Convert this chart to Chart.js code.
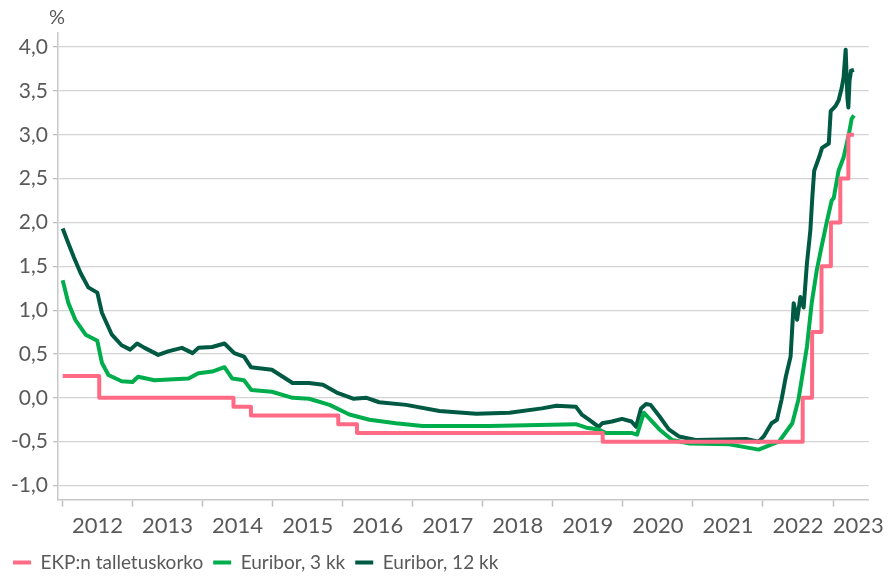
<!DOCTYPE html>
<html>
<head>
<meta charset="utf-8">
<script src="https://cdn.jsdelivr.net/npm/chart.js@4/dist/chart.umd.min.js"></script>
<style>
  html, body { margin: 0; padding: 0; background: #fff; }
  #wrap { width: 890px; height: 582px; }
</style>
</head>
<body>
<div id="wrap"><canvas id="chart"></canvas></div>
<script>
const seriesNames = ["EKP:n talletuskorko", "Euribor, 3 kk", "Euribor, 12 kk"];
const yearLabels = ["2012", "2013", "2014", "2015", "2016", "2017", "2018", "2019", "2020", "2021", "2022", "2023"];
const yTicks = [-1, -0.5, 0, 0.5, 1, 1.5, 2, 2.5, 3, 3.5, 4];

// EKP deposit rate: change dates and new rate
const ecbDates = ["2012-01-02", "2012-07-11", "2014-06-11", "2014-09-10", "2015-12-09", "2016-03-16", "2019-09-18",
  "2022-07-27", "2022-09-14", "2022-11-02", "2022-12-21", "2023-02-08", "2023-03-22"];
const ecbRates = [0.25, 0, -0.1, -0.2, -0.3, -0.4, -0.5, 0, 0.75, 1.5, 2, 2.5, 3];
const ecbEnd = "2023-04-20";

const e3Dates = ["2012-01-02", "2012-02-01", "2012-03-08", "2012-05-01", "2012-07-01", "2012-07-25", "2012-08-28",
  "2012-11-05", "2013-01-01", "2013-01-30", "2013-04-25", "2013-10-20", "2013-12-10", "2014-02-20", "2014-04-25",
  "2014-06-05", "2014-08-05", "2014-09-12", "2014-12-28", "2015-04-15", "2015-07-10", "2015-10-25", "2016-02-05",
  "2016-05-20", "2016-10-05", "2017-02-20", "2018-02-05", "2019-05-01", "2019-06-25", "2019-08-28", "2019-10-05",
  "2020-02-15", "2020-03-15", "2020-04-20", "2020-05-25", "2020-07-10", "2020-09-15", "2020-12-15", "2021-07-10",
  "2021-12-10", "2022-02-15", "2022-03-25", "2022-06-03", "2022-07-05", "2022-07-22", "2022-08-18", "2022-09-12",
  "2022-10-08", "2022-11-02", "2022-11-28", "2022-12-25", "2023-01-05", "2023-01-30", "2023-02-25", "2023-03-25",
  "2023-04-08", "2023-04-20"];
const e3Values = [1.34, 1.08, 0.89, 0.72, 0.65, 0.40, 0.26,
  0.19, 0.18, 0.24, 0.20, 0.22, 0.28, 0.30, 0.35,
  0.22, 0.20, 0.09, 0.07, 0.00, -0.01, -0.08, -0.19,
  -0.25, -0.29, -0.32, -0.32, -0.30, -0.34, -0.36, -0.40,
  -0.40, -0.42, -0.17, -0.25, -0.36, -0.48, -0.52, -0.53,
  -0.59, -0.53, -0.50, -0.29, -0.02, 0.21, 0.58, 1.08,
  1.45, 1.72, 1.99, 2.25, 2.28, 2.59, 2.74, 3.01,
  3.18, 3.22];

const e12Dates = ["2012-01-02", "2012-02-01", "2012-03-01", "2012-04-05", "2012-05-15", "2012-06-15", "2012-07-01",
  "2012-07-25", "2012-09-15", "2012-11-05", "2012-12-20", "2013-01-25", "2013-03-05", "2013-05-15", "2013-07-05",
  "2013-09-15", "2013-11-10", "2013-12-10", "2014-02-20", "2014-04-25", "2014-06-15", "2014-08-05", "2014-09-10",
  "2014-12-28", "2015-04-15", "2015-07-10", "2015-09-20", "2015-12-01", "2016-02-25", "2016-05-05", "2016-07-10",
  "2016-11-28", "2017-05-20", "2017-11-28", "2018-05-20", "2018-11-05", "2019-01-20", "2019-05-01", "2019-06-01",
  "2019-07-10", "2019-08-28", "2019-09-15", "2019-11-05", "2019-12-28", "2020-02-15", "2020-03-10", "2020-04-05",
  "2020-05-01", "2020-05-25", "2020-07-10", "2020-08-28", "2020-10-20", "2021-01-15", "2021-10-05", "2021-12-10",
  "2022-01-05", "2022-02-15", "2022-03-15", "2022-04-08", "2022-04-30", "2022-05-25", "2022-06-10", "2022-06-28",
  "2022-07-15", "2022-08-01", "2022-08-18", "2022-09-05", "2022-09-15", "2022-09-25", "2022-10-20", "2022-11-05",
  "2022-12-10", "2022-12-20", "2023-01-15", "2023-01-30", "2023-02-15", "2023-02-25", "2023-03-08", "2023-03-17",
  "2023-03-22", "2023-03-28", "2023-04-05", "2023-04-20"];
const e12Values = [1.93, 1.76, 1.60, 1.42, 1.26, 1.22, 1.20,
  0.97, 0.72, 0.60, 0.55, 0.62, 0.57, 0.49, 0.53,
  0.57, 0.51, 0.57, 0.58, 0.62, 0.51, 0.47, 0.35,
  0.32, 0.17, 0.17, 0.15, 0.06, -0.01, 0.00, -0.05,
  -0.08, -0.15, -0.18, -0.17, -0.12, -0.09, -0.10, -0.19,
  -0.25, -0.33, -0.29, -0.27, -0.24, -0.27, -0.33, -0.12,
  -0.07, -0.08, -0.21, -0.36, -0.44, -0.48, -0.47, -0.50,
  -0.44, -0.29, -0.25, -0.02, 0.24, 0.47, 1.08, 0.89,
  1.15, 1.03, 1.53, 1.91, 2.28, 2.59, 2.74, 2.85,
  2.90, 3.27, 3.33, 3.39, 3.53, 3.65, 3.97, 3.42,
  3.31, 3.61, 3.73, 3.74];

const colors = ["#ff6b84", "#00ad4c", "#005a43"];
const textColor = "#595959";
const font = "Lato, 'Open Sans', sans-serif";
const xMin = 2011.936;
const xMax = 2023.51;

const toYear = (s) => {
  const [y, m, d] = s.split("-").map(Number);
  const start = Date.UTC(y, 0, 1);
  return y + (Date.UTC(y, m - 1, d) - start) / (Date.UTC(y + 1, 0, 1) - start);
};

const toPoints = (dates, values) => dates.map((d, i) => ({ x: toYear(d), y: values[i] }));

const stepPoints = () => {
  const pts = [{ x: toYear(ecbDates[0]), y: ecbRates[0] }];
  for (let i = 1; i < ecbDates.length; i++) {
    pts.push({ x: toYear(ecbDates[i]), y: ecbRates[i - 1] });
    pts.push({ x: toYear(ecbDates[i]), y: ecbRates[i] });
  }
  pts.push({ x: toYear(ecbEnd), y: ecbRates[ecbRates.length - 1] });
  return pts;
};

// year ticks (marks) and label positions in between
const labelPos = yearLabels.map((l) => Math.min(+l + 0.5, xMax - 0.15));
const xTickList = [];
yearLabels.forEach((l, i) => {
  xTickList.push({ value: +l, label: "" });
  xTickList.push({ value: labelPos[i], label: l });
});

const percentLabel = {
  id: "percentLabel",
  afterDraw(chart) {
    const { ctx, scales } = chart;
    ctx.save();
    ctx.font = `20px ${font}`;
    ctx.fillStyle = textColor;
    ctx.textAlign = "center";
    ctx.textBaseline = "middle";
    ctx.fillText("%", scales.y.right - 1, scales.y.top - 15);
    ctx.restore();
  },
};

const lineSet = (label, data, color) => ({
  label,
  data,
  borderColor: color,
  backgroundColor: color,
  borderWidth: 4,
  pointRadius: 0,
  tension: 0,
  borderJoinStyle: "round",
  fill: false,
});

const chart = new Chart(document.getElementById("chart").getContext("2d"), {
  type: "line",
  data: {
    datasets: [
      lineSet(seriesNames[0], stepPoints(), colors[0]),
      lineSet(seriesNames[1], toPoints(e3Dates, e3Values), colors[1]),
      lineSet(seriesNames[2], toPoints(e12Dates, e12Values), colors[2]),
    ],
  },
  options: {
    responsive: true,
    maintainAspectRatio: false,
    animation: false,
    events: [],
    layout: { padding: { left: 3, right: 20, top: 33, bottom: 0 } },
    plugins: {
      tooltip: { enabled: false },
      legend: {
        position: "bottom",
        align: "start",
        labels: {
          color: textColor,
          font: { family: font, size: 19 },
          usePointStyle: true,
          pointStyle: "line",
          pointStyleWidth: 18,
          padding: 10,
        },
      },
    },
    scales: {
      x: {
        type: "linear",
        min: xMin,
        max: xMax,
        afterBuildTicks: (axis) => {
          axis.ticks = xTickList.map((t) => ({ value: t.value }));
        },
        afterFit: (scale) => {
          scale.height -= 2;
        },
        ticks: {
          autoSkip: false,
          maxRotation: 0,
          padding: 6,
          color: textColor,
          font: { family: font, size: 22 },
          callback: (value, index) => xTickList[index].label,
        },
        grid: {
          drawOnChartArea: false,
          drawTicks: true,
          tickLength: 7,
          tickWidth: 1.5,
          tickColor: (ctx) => (ctx.tick && xTickList[ctx.index] && xTickList[ctx.index].label === "" ? "#bfbfbf" : "transparent"),
        },
        border: { display: true, color: "#c8c8c8", width: 1.5 },
      },
      y: {
        min: -1.16,
        max: 4.16,
        afterBuildTicks: (axis) => {
          axis.ticks = yTicks.map((v) => ({ value: v }));
        },
        afterFit: (scale) => {
          scale.width = 55;
        },
        ticks: {
          padding: 5,
          color: textColor,
          font: { family: font, size: 21 },
          callback: (value) => value.toFixed(1).replace(".", ","),
        },
        grid: {
          color: "#d4d4d4",
          lineWidth: 1.3,
          tickLength: 5,
          tickColor: "#bfbfbf",
        },
        border: { display: true, color: "#c8c8c8", width: 1.5 },
      },
    },
  },
  plugins: [percentLabel],
});
</script>
</body>
</html>
